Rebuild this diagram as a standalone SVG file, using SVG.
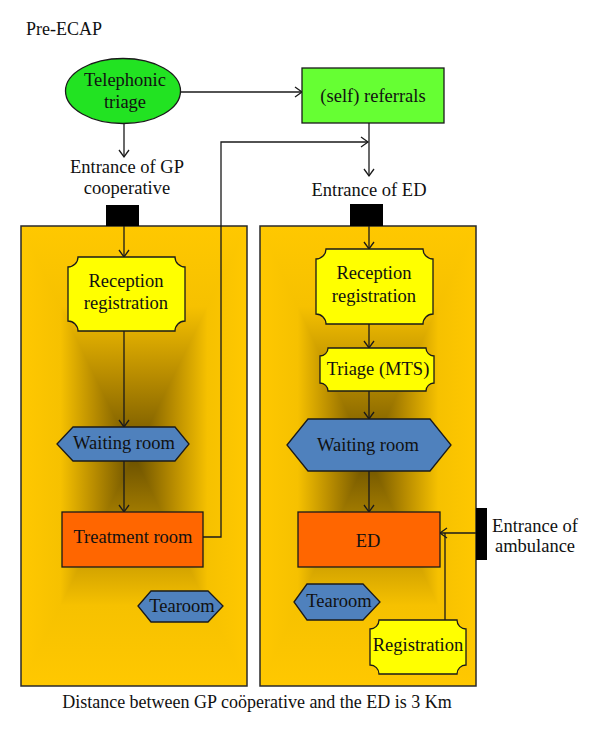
<svg xmlns="http://www.w3.org/2000/svg" width="600" height="736" viewBox="0 0 600 736" font-family="'Liberation Serif', 'DejaVu Serif', 'Times New Roman', Times, serif">
<defs>
<style>
text{font-family:'Liberation Serif','DejaVu Serif','Times New Roman',Times,serif;font-size:18.5px;fill:#111;text-anchor:middle}
.panel{fill:#FFC800}
.frame{fill:none;stroke:#2a2a2a;stroke-width:1.5}
.tri{shape-rendering:crispEdges}
.node{stroke:#1a1a1a;stroke-width:1.3}
.green{fill:#22E322}
.lime{fill:#66FF33}
.yellow{fill:#FFFF00}
.blue{fill:#4F81BD}
.orange{fill:#FF6600}
.door{fill:#000}
.conn{fill:none;stroke:#1a1a1a;stroke-width:1.3}
</style>
<linearGradient id="gT" x1="0" y1="0" x2="0" y2="1">
<stop offset="0" stop-color="#FFC800"/><stop offset="0.35" stop-color="#F6C100"/><stop offset="0.65" stop-color="#B88C00"/><stop offset="1" stop-color="#6A5000"/>
</linearGradient>
<linearGradient id="gB" href="#gT" x1="0" y1="1" x2="0" y2="0"/>
<linearGradient id="gL" href="#gT" x1="0" y1="0" x2="1" y2="0"/>
<linearGradient id="gR" href="#gT" x1="1" y1="0" x2="0" y2="0"/>
<marker id="arr" markerUnits="userSpaceOnUse" markerWidth="14" markerHeight="14" viewBox="-8 -7 10 14" refX="0" refY="0" orient="auto">
<path d="M-7,-5 L0,0 L-7,5" fill="none" stroke="#1a1a1a" stroke-width="1.3"/>
</marker>
</defs>
<rect width="600" height="736" fill="#fff"/>

<text x="26" y="35" style="text-anchor:start;font-size:18px">Pre-ECAP</text>

<g id="gp-building">
<rect class="panel" x="21" y="226" width="226" height="460"/>
<polygon class="tri" fill="url(#gT)" points="21,226 247,226 134,456"/>
<polygon class="tri" fill="url(#gB)" points="21,686 247,686 134,456"/>
<polygon class="tri" fill="url(#gL)" points="21,226 21,686 134,456"/>
<polygon class="tri" fill="url(#gR)" points="247,226 247,686 134,456"/>
<rect class="frame" x="21" y="226" width="226" height="460"/>
</g>
<g id="ed-building">
<rect class="panel" x="260" y="226" width="216" height="460"/>
<polygon class="tri" fill="url(#gT)" points="260,226 476,226 368,456"/>
<polygon class="tri" fill="url(#gB)" points="260,686 476,686 368,456"/>
<polygon class="tri" fill="url(#gL)" points="260,226 260,686 368,456"/>
<polygon class="tri" fill="url(#gR)" points="476,226 476,686 368,456"/>
<rect class="frame" x="260" y="226" width="216" height="460"/>
</g>

<g id="connectors">
<path class="conn" d="M124,123 V157" marker-end="url(#arr)"/>
<path class="conn" d="M181,92 H302" marker-end="url(#arr)"/>
<path class="conn" d="M203,537 H221 V142 H368" marker-end="url(#arr)"/>
<path class="conn" d="M369,123 V176" marker-end="url(#arr)"/>
<path class="conn" d="M124,216 V257" marker-end="url(#arr)"/>
<path class="conn" d="M369,216 V249" marker-end="url(#arr)"/>
<path class="conn" d="M124,331 V427" marker-end="url(#arr)"/>
<path class="conn" d="M124,461 V512" marker-end="url(#arr)"/>
<path class="conn" d="M369,324 V348" marker-end="url(#arr)"/>
<path class="conn" d="M369,391 V419" marker-end="url(#arr)"/>
<path class="conn" d="M369,471 V512" marker-end="url(#arr)"/>
<path class="conn" d="M476,533 H440" marker-end="url(#arr)"/>
<path class="conn" d="M445,620 V533"/>
</g>

<g id="telephonic-triage">
<ellipse class="node green" cx="123" cy="91" rx="57.5" ry="32.5"/>
<text x="125" y="86">Telephonic</text>
<text x="125" y="108">triage</text>
</g>
<g id="self-referrals">
<rect class="node lime" x="302" y="68" width="142" height="55"/>
<text x="373" y="102">(self) referrals</text>
</g>
<g id="entrance-gp">
<text x="127" y="173">Entrance of GP</text>
<text x="127" y="194">cooperative</text>
<rect class="door" x="106" y="205" width="33" height="21"/>
</g>
<g id="entrance-ed">
<text x="369" y="196">Entrance of ED</text>
<rect class="door" x="350" y="204" width="33" height="22"/>
</g>

<g id="gp-reception">
<path class="node yellow" d="M78,257 H175 A10,10 0 0 0 185,267 V321 A10,10 0 0 0 175,331 H78 A10,10 0 0 0 68,321 V267 A10,10 0 0 0 78,257 Z"/>
<text x="126" y="287">Reception</text>
<text x="126" y="309">registration</text>
</g>
<g id="gp-waiting-room">
<polygon class="node blue" points="57,444 73,427 175,427 189,444 175,461 73,461"/>
<text x="124" y="449">Waiting room</text>
</g>
<g id="gp-treatment-room">
<rect class="node orange" x="62" y="512" width="141" height="55"/>
<text x="133" y="543">Treatment room</text>
</g>
<g id="gp-tearoom">
<polygon class="node blue" points="138,606 151,591 208,591 223,606 208,622 151,622"/>
<text x="182" y="612">Tearoom</text>
</g>

<g id="ed-reception">
<path class="node yellow" d="M326,249 H423 A10,10 0 0 0 433,259 V314 A10,10 0 0 0 423,324 H326 A10,10 0 0 0 316,314 V259 A10,10 0 0 0 326,249 Z"/>
<text x="374" y="279">Reception</text>
<text x="374" y="302">registration</text>
</g>
<g id="ed-triage">
<path class="node yellow" d="M328,348 H426 A8,8 0 0 0 434,356 V383 A8,8 0 0 0 426,391 H328 A8,8 0 0 0 320,383 V356 A8,8 0 0 0 328,348 Z"/>
<text x="378" y="375">Triage (MTS)</text>
</g>
<g id="ed-waiting-room">
<polygon class="node blue" points="287,445 308,419 430,419 451,445 430,471 308,471"/>
<text x="368" y="451">Waiting room</text>
</g>
<g id="ed">
<rect class="node orange" x="298" y="512" width="142" height="55"/>
<text x="368" y="547">ED</text>
</g>
<g id="ed-tearoom">
<polygon class="node blue" points="294,602 307,584 363,584 380,602 363,620 307,620"/>
<text x="339" y="607">Tearoom</text>
</g>
<g id="ed-registration">
<path class="node yellow" d="M379,620 H457 A9,9 0 0 0 466,629 V665 A9,9 0 0 0 457,674 H379 A9,9 0 0 0 370,665 V629 A9,9 0 0 0 379,620 Z"/>
<text x="418" y="651">Registration</text>
</g>
<g id="ambulance-entrance">
<rect class="door" x="476" y="508" width="11" height="52"/>
<text x="535" y="532">Entrance of</text>
<text x="535" y="552">ambulance</text>
</g>

<text x="257" y="708" style="font-size:18px">Distance between GP coöperative and the ED is 3 Km</text>
</svg>
